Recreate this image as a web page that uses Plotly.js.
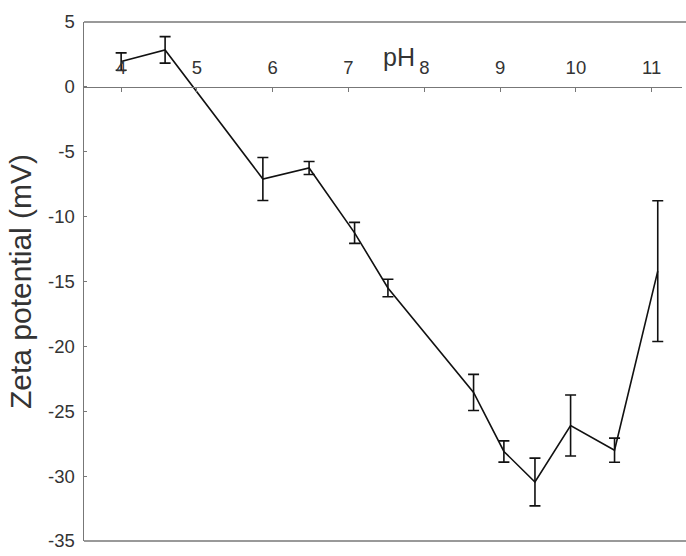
<!DOCTYPE html>
<html>
<head>
<meta charset="utf-8">
<script src="https://cdn.plot.ly/plotly-3.0.1.min.js"></script>
<style>html,body{margin:0;padding:0;background:#fff;}#chart{width:686px;height:556px;}</style>
</head>
<body>
<div id="chart"></div>
<script>
const pH = [4.00, 4.58, 5.87, 6.48, 7.08, 7.52, 8.65, 9.05, 9.46, 9.93, 10.51, 11.08];
const zeta = [1.95, 2.85, -7.10, -6.25, -11.25, -15.50, -23.55, -28.10, -30.45, -26.10, -28.00, -14.20];
const zetaErr = [0.67, 1.02, 1.66, 0.50, 0.81, 0.67, 1.39, 0.82, 1.84, 2.35, 0.93, 5.42];
const xTicks = [4, 5, 6, 7, 8, 9, 10, 11];
const yTicks = [5, 0, -5, -10, -15, -20, -25, -30, -35];

const axisGray = '#777777';
const textGray = '#333333';

const trace = {
  x: pH, y: zeta, type: 'scatter', mode: 'lines',
  line: {color: '#111111', width: 1.6},
  error_y: {type: 'data', array: zetaErr, visible: true, color: '#111111', thickness: 1.6, width: 5.5},
  showlegend: false, hoverinfo: 'skip'
};

const layout = {
  width: 686, height: 556,
  margin: {l: 84, r: 4, t: 22, b: 15},
  paper_bgcolor: '#ffffff', plot_bgcolor: '#ffffff',
  font: {family: 'Liberation Sans, Arial, sans-serif', color: textGray},
  xaxis: {
    range: [3.51, 11.4], anchor: 'free', position: 0.875, side: 'top',
    tickvals: xTicks, ticktext: xTicks.map(String),
    ticks: 'inside', ticklen: 4, tickcolor: axisGray, tickwidth: 1,
    showline: true, linecolor: axisGray, linewidth: 1.5,
    showgrid: false, zeroline: false,
    tickfont: {size: 18.5, color: textGray}, ticklabelstandoff: 5
  },
  yaxis: {
    range: [-35, 5], tickvals: yTicks, ticktext: yTicks.map(String),
    ticks: 'inside', ticklen: 3, tickcolor: axisGray,
    showline: true, linecolor: axisGray, linewidth: 1.5,
    showgrid: false, zeroline: false,
    tickfont: {size: 18.5, color: textGray}, ticklabelstandoff: 4,
    title: {text: 'Zeta potential (mV)', font: {size: 30, color: textGray}, standoff: 7},
    automargin: false
  },
  shapes: [
    {type: 'line', xref: 'paper', yref: 'paper', x0: 0, x1: 1.01, y0: 1, y1: 1, line: {color: axisGray, width: 1.5}},
    {type: 'line', xref: 'paper', yref: 'paper', x0: 0, x1: 1.01, y0: 0, y1: 0, line: {color: axisGray, width: 1.5}}
  ],
  annotations: [
    {text: 'pH', xref: 'x', yref: 'y', x: 7.66, y: 0, yanchor: 'bottom', xanchor: 'center', yshift: 14, showarrow: false,
     font: {size: 25, color: textGray}}
  ]
};

Plotly.newPlot('chart', [trace], layout, {displayModeBar: false, staticPlot: true});
</script>
</body>
</html>
